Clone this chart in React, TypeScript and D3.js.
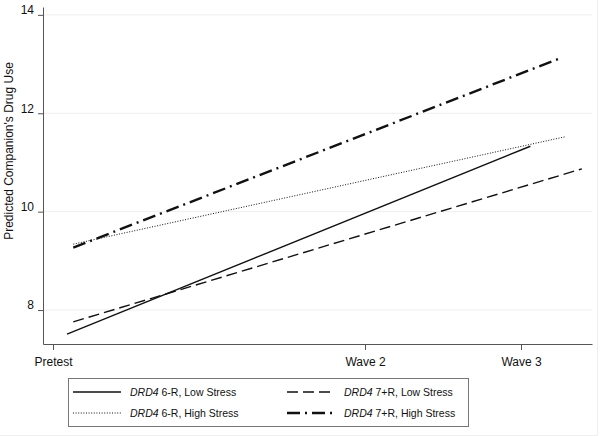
import { useEffect, useRef } from 'react';
import * as d3 from 'd3';

// waves on the x axis (time index)
const waveLabels = ['Pretest', 'Wave 2', 'Wave 3'];
const waveTimes = [0, 2, 3];
const yTicks = [8, 10, 12, 14];

// each line: [time, predicted value] at start and end
const lowShort = [[0.09, 7.51], [3.06, 11.33]];
const lowLong = [[0.13, 7.76], [3.39, 10.87]];
const highShort = [[0.13, 9.34], [3.28, 11.52]];
const highLong = [[0.13, 9.27], [3.26, 13.13]];

const seriesNames = [
  '6-R, Low Stress',
  '7+R, Low Stress',
  '6-R, High Stress',
  '7+R, High Stress',
];

const styles = [
  { dash: null, width: 1.4 },
  { dash: '11,5', width: 1.4 },
  { dash: '1,1.6', width: 1 },
  { dash: '13,5,2,5', width: 2.4 },
];

export default function App() {
  const ref = useRef<SVGSVGElement | null>(null);

  useEffect(() => {
    if (!ref.current) return;
    const svg = d3.select(ref.current);
    svg.selectAll('*').remove();

    const x = d3.scaleLinear().domain([-0.064, 3.455]).range([43, 592]);
    const y = d3.scaleLinear().domain([7.31, 14.16]).range([344, 7]);
    const font = '"Liberation Sans", Arial, sans-serif';

    // faint outer frame (right and bottom)
    svg.append('path')
      .attr('d', 'M597.5,0V435.5H0')
      .attr('fill', 'none')
      .attr('stroke', '#eeeeee');

    // light gridlines
    svg.append('g')
      .selectAll('line')
      .data(yTicks)
      .enter()
      .append('line')
      .attr('x1', 44).attr('x2', 592)
      .attr('y1', d => y(d)).attr('y2', d => y(d))
      .attr('stroke', '#eeeeee').attr('stroke-width', 1);

    // y axis
    const yAxis = svg.append('g')
      .attr('transform', 'translate(43,0)')
      .call(d3.axisLeft(y)
        .tickValues(yTicks)
        .tickFormat(d3.format('d'))
        .tickSize(5).tickSizeOuter(0).tickPadding(4));
    yAxis.select('.domain').attr('stroke', '#555');
    yAxis.selectAll('.tick line').attr('stroke', '#555');
    yAxis.selectAll('text')
      .attr('fill', '#111')
      .style('font-family', font)
      .style('font-size', '12px')
      .attr('dy', '-0.1em');

    // x axis
    const xAxis = svg.append('g')
      .attr('transform', 'translate(0,344)')
      .call(d3.axisBottom(x)
        .tickValues(waveTimes)
        .tickFormat((_, i) => waveLabels[i])
        .tickSize(6).tickSizeOuter(0).tickPadding(7));
    xAxis.select('.domain').attr('stroke', '#555');
    xAxis.selectAll('.tick line').attr('stroke', '#555');
    xAxis.selectAll('text')
      .attr('fill', '#111')
      .style('font-family', font)
      .style('font-size', '12px');

    // y label
    svg.append('text')
      .attr('transform', 'translate(13,151) rotate(-90)')
      .attr('text-anchor', 'middle')
      .style('font-family', font)
      .style('font-size', '12px')
      .attr('fill', '#111')
      .text("Predicted Companion's Drug Use");

    const line = d3.line<number[]>()
      .x(d => x(d[0]))
      .y(d => y(d[1]));

    const allSeries = [lowShort, lowLong, highShort, highLong];
    allSeries.forEach((s, i) => {
      svg.append('path')
        .attr('d', line(s))
        .attr('fill', 'none')
        .attr('stroke', '#111')
        .attr('stroke-width', styles[i].width)
        .attr('stroke-dasharray', styles[i].dash);
    });

    // legend
    const lg = svg.append('g');
    lg.append('rect')
      .attr('x', 68.5).attr('y', 378.5)
      .attr('width', 400).attr('height', 48)
      .attr('fill', 'white')
      .attr('stroke', '#777');

    const cols = [73, 287];
    const rows = [392, 413];
    seriesNames.forEach((name, i) => {
      const cx = cols[i % 2];
      const cy = rows[Math.floor(i / 2)];
      lg.append('line')
        .attr('x1', cx).attr('x2', cx + 48)
        .attr('y1', cy).attr('y2', cy)
        .attr('stroke', '#111')
        .attr('stroke-width', styles[i].width)
        .attr('stroke-dasharray', styles[i].dash);
      const t = lg.append('text')
        .attr('x', cx + 57).attr('y', cy + 4)
        .style('font-family', font)
        .style('font-size', '10.5px')
        .attr('fill', '#111');
      t.append('tspan').style('font-style', 'italic').text('DRD4');
      t.append('tspan').text(' ' + name);
    });
  }, []);

  return (
    <svg
      ref={ref}
      width={600}
      height={436}
      style={{ position: 'absolute', left: 0, top: 0, background: 'white' }}
    />
  );
}
